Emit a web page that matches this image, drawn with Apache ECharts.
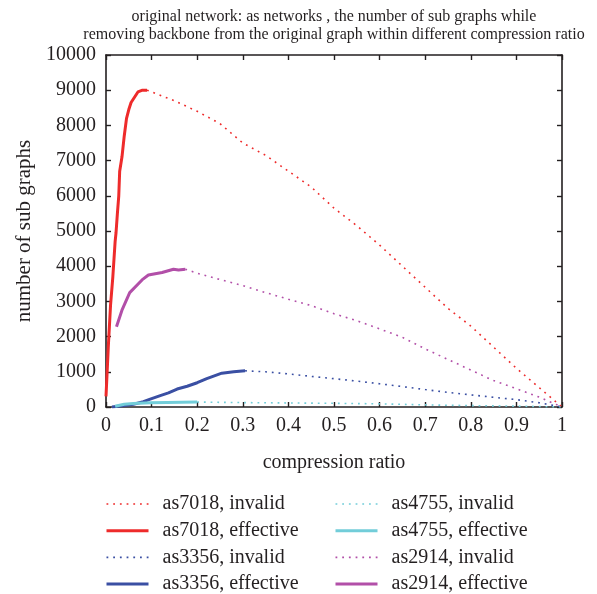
<!DOCTYPE html>
<html>
<head>
<meta charset="utf-8">
<title>sub graphs vs compression ratio</title>
<script src="https://cdn.jsdelivr.net/npm/echarts@6/dist/echarts.min.js"></script>
<style>
  html, body { margin: 0; padding: 0; background: #ffffff; }
  #chart { width: 597px; height: 594px; }
</style>
</head>
<body>
<div id="chart"></div>
<script>
// compression ratio ticks
const xTicks = [0, 0.1, 0.2, 0.3, 0.4, 0.5, 0.6, 0.7, 0.8, 0.9, 1];

// as7018
const as7018EffX = [0, 0.005, 0.01, 0.015, 0.02, 0.022, 0.025, 0.028, 0.03, 0.035, 0.04, 0.045, 0.05, 0.055, 0.06, 0.07, 0.08, 0.09];
const as7018EffY = [300, 1700, 2900, 3700, 4700, 4950, 5500, 6000, 6700, 7100, 7700, 8200, 8450, 8650, 8750, 8950, 9000, 9000];
const as7018InvX = [0.09, 0.1, 0.15, 0.2, 0.25, 0.3, 0.35, 0.4, 0.45, 0.5, 0.55, 0.6, 0.65, 0.7, 0.75, 0.8, 0.85, 0.9, 0.95, 1.0];
const as7018InvY = [9000, 8950, 8700, 8400, 8050, 7500, 7150, 6700, 6250, 5650, 5150, 4600, 4000, 3400, 2800, 2300, 1700, 1100, 550, 0];

// as3356
const as3356EffX = [0.013, 0.04, 0.06, 0.082, 0.097, 0.119, 0.137, 0.156, 0.178, 0.2, 0.221, 0.254, 0.28, 0.305];
const as3356EffY = [0, 40, 80, 150, 225, 325, 400, 510, 590, 690, 805, 960, 1000, 1030];
const as3356InvX = [0.305, 0.35, 0.4, 0.45, 0.5, 0.55, 0.6, 0.65, 0.7, 0.75, 0.8, 0.85, 0.9, 0.95, 1.0];
const as3356InvY = [1030, 1000, 940, 870, 805, 735, 660, 580, 495, 415, 345, 275, 210, 120, 0];

// as4755
const as4755EffX = [0.02, 0.04, 0.06, 0.097, 0.134, 0.2];
const as4755EffY = [20, 80, 100, 118, 130, 140];
const as4755InvX = [0.2, 0.3, 0.4, 0.5, 0.6, 0.7, 0.8, 0.9, 1.0];
const as4755InvY = [140, 125, 115, 105, 90, 60, 40, 25, 0];

// as2914
const as2914EffX = [0.023, 0.035, 0.052, 0.079, 0.093, 0.123, 0.148, 0.159, 0.174];
const as2914EffY = [2280, 2750, 3250, 3610, 3750, 3820, 3915, 3895, 3915];
const as2914InvX = [0.174, 0.2, 0.25, 0.3, 0.35, 0.4, 0.45, 0.5, 0.55, 0.6, 0.65, 0.7, 0.75, 0.8, 0.85, 0.9, 0.95, 1.0];
const as2914InvY = [3915, 3800, 3620, 3450, 3250, 3060, 2880, 2650, 2450, 2220, 1980, 1650, 1350, 1050, 750, 520, 280, 0];

const FONT = '"Liberation Serif", "DejaVu Serif", serif';
const INK = '#231f20';

const COLORS = {
  as7018: '#ee2b2b',
  as3356: '#3a4fa3',
  as4755: '#72cdd9',
  as2914: '#b24fa8'
};

const SOLID_W = 3;
const DOT_W = 1.6;
const DOT_DASH = [1.8, 4.9];

function pairs(xs, ys) {
  return xs.map((x, i) => [x, ys[i]]);
}

function solid(name, color, xs, ys) {
  return {
    name: name, type: 'line', xAxisIndex: 0, yAxisIndex: 0,
    data: pairs(xs, ys), symbol: 'none', smooth: false,
    lineStyle: { color: color, width: SOLID_W, type: 'solid' },
    itemStyle: { color: color },
    z: 3
  };
}

function dotted(name, color, xs, ys) {
  return {
    name: name, type: 'line', xAxisIndex: 0, yAxisIndex: 0,
    data: pairs(xs, ys), symbol: 'none', smooth: false,
    lineStyle: { color: color, width: DOT_W, type: DOT_DASH },
    itemStyle: { color: color },
    z: 2
  };
}

const series = [
  dotted('as7018, invalid', COLORS.as7018, as7018InvX, as7018InvY),
  solid('as7018, effective', COLORS.as7018, as7018EffX, as7018EffY),
  dotted('as3356, invalid', COLORS.as3356, as3356InvX, as3356InvY),
  solid('as3356, effective', COLORS.as3356, as3356EffX, as3356EffY),
  dotted('as4755, invalid', COLORS.as4755, as4755InvX, as4755InvY),
  solid('as4755, effective', COLORS.as4755, as4755EffX, as4755EffY),
  dotted('as2914, invalid', COLORS.as2914, as2914InvX, as2914InvY),
  solid('as2914, effective', COLORS.as2914, as2914EffX, as2914EffY)
];

// legend entry: line sample drawn at the series' own width
function legendItem(name) {
  const isSolid = name.indexOf('effective') >= 0;
  return { name: name, lineStyle: { width: isSolid ? SOLID_W : DOT_W } };
}

// legend: line sample only, the marker dot is hidden
const legendBase = {
  orient: 'vertical',
  top: 494,
  height: 130,
  padding: 0,
  itemWidth: 42,
  itemHeight: 14,
  itemGap: 6.7,
  selectedMode: false,
  itemStyle: { opacity: 0, borderWidth: 0 },
  textStyle: { fontFamily: FONT, fontSize: 20, color: INK, lineHeight: 20, padding: [0, 0, 0, 9] }
};

const frameLine = { show: true, onZero: false, lineStyle: { color: INK, width: 1.6 } };
const innerTick = { show: true, inside: true, length: 5, lineStyle: { color: INK, width: 1.4 } };

const option = {
  backgroundColor: '#ffffff',
  animation: false,
  title: {
    text: 'original network: as networks , the number of sub graphs while\nremoving backbone from the original graph within different compression ratio',
    left: 329,
    top: 3,
    textAlign: 'center',
    textStyle: { fontFamily: FONT, fontSize: 16, fontWeight: 'normal', color: INK, lineHeight: 18 }
  },
  legend: [
    Object.assign({}, legendBase, {
      left: 105,
      data: ['as7018, invalid', 'as7018, effective', 'as3356, invalid', 'as3356, effective'].map(legendItem)
    }),
    Object.assign({}, legendBase, {
      left: 334,
      data: ['as4755, invalid', 'as4755, effective', 'as2914, invalid', 'as2914, effective'].map(legendItem)
    })
  ],
  grid: { left: 106, right: 35, top: 55, bottom: 187, containLabel: false },
  xAxis: [
    {
      type: 'value', min: xTicks[0], max: xTicks[xTicks.length - 1], interval: 0.1,
      position: 'bottom',
      name: 'compression ratio', nameLocation: 'middle', nameGap: 46,
      nameTextStyle: { fontFamily: FONT, fontSize: 20, color: INK },
      axisLine: frameLine, axisTick: innerTick, splitLine: { show: false },
      axisLabel: {
        fontFamily: FONT, fontSize: 20, color: INK, margin: 9,
        formatter: v => (v === 0 ? '0' : v === 1 ? '1' : v.toFixed(1))
      }
    },
    {
      type: 'value', min: xTicks[0], max: xTicks[xTicks.length - 1], interval: 0.1,
      position: 'top',
      axisLine: frameLine, axisTick: innerTick, splitLine: { show: false },
      axisLabel: { show: false }
    }
  ],
  yAxis: [
    {
      type: 'value', min: 0, max: 10000, interval: 1000,
      position: 'left',
      name: 'number of sub graphs', nameLocation: 'middle', nameGap: 63, nameRotate: 90,
      nameTextStyle: { fontFamily: FONT, fontSize: 21, color: INK },
      axisLine: frameLine, axisTick: innerTick, splitLine: { show: false },
      axisLabel: {
        fontFamily: FONT, fontSize: 20, color: INK, margin: 10,
        formatter: v => String(v)
      }
    },
    {
      type: 'value', min: 0, max: 10000, interval: 1000,
      position: 'right',
      axisLine: frameLine, axisTick: innerTick, splitLine: { show: false },
      axisLabel: { show: false }
    }
  ],
  series: series
};

const chart = echarts.init(document.getElementById('chart'), null, { renderer: 'canvas' });
chart.setOption(option);
</script>
</body>
</html>
